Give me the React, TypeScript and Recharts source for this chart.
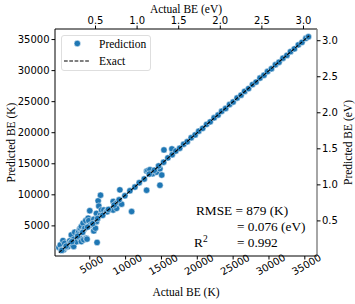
import React from "react";
import { ScatterChart, Scatter, XAxis, YAxis } from "recharts";

// values, in Kelvin
const actualK = [
  700, 890, 1030, 1260, 1360, 1500, 1730, 1960, 2200, 2300, 2430, 2570, 2760, 2760, 2900,
  3140, 3370, 3460, 3600, 3600, 3700, 3830, 3830, 4070, 4160, 4160, 4300, 4440, 4530, 4620,
  4770, 4860, 5000, 5100, 5560, 5560, 5790, 5930, 5930, 6020, 6170, 6260, 6500, 6500, 6630,
  6960, 7330, 7420, 8040, 8270, 8260, 8740, 8740, 9200, 9440, 10840,
  12930, 12930, 13100, 13390, 13770, 14330, 14790, 14790, 15040, 15350, 16460,
  1100, 1700, 2500, 3300, 4000, 4700, 5400, 6100, 6800, 7600, 8400, 9100, 9900, 10600, 11300,
  11900, 12600, 13300, 14000, 14600, 15300, 15900,
  16500, 17000, 17550, 18100, 18600, 19150, 19700, 20200, 20750, 21300, 21800, 22350, 22900,
  23400, 23950, 24500, 25000, 25550, 26100, 26600, 27150, 27700, 28200, 28750, 29300, 29800,
  30350, 30900, 31400, 31950, 32500, 33000, 33550, 34100, 34600, 35150, 35500,
];
const predictedK = [
  1500, 1930, 1130, 2630, 1160, 2200, 1550, 1660, 2580, 2230, 3550, 1930, 2850, 1690, 3980,
  2440, 3820, 4090, 4520, 3010, 4630, 4890, 2470, 5430, 4360, 2760, 4620, 5860, 3010, 2870,
  6240, 5840, 7440, 5150, 6060, 4190, 4630, 5680, 7020, 2330, 9030, 8190, 9940, 6750, 7580,
  7550, 7310, 7280, 7690, 8930, 7550, 8660, 7820, 10800, 8500, 7310,
  13820, 10740, 13900, 14040, 13400, 13660, 14200, 11540, 13180, 17230, 17390,
  1050, 1750, 2450, 3350, 3950, 4800, 5350, 6200, 6700, 7650, 8350, 9200, 9850, 10650, 11250,
  11950, 12550, 13350, 13950, 14650, 15250, 15950,
  16450, 17050, 17500, 18150, 18550, 19200, 19650, 20250, 20700, 21350, 21750, 22400, 22850,
  23450, 23900, 24550, 24950, 25600, 26050, 26650, 27100, 27750, 28150, 28800, 29250, 29850,
  30300, 30950, 31350, 32000, 32450, 33050, 33500, 34150, 34550, 35200, 35450,
];
const exactK = [700, 35600];

const kTicks = [5000, 10000, 15000, 20000, 25000, 30000, 35000];
const evTicks = [0.5, 1.0, 1.5, 2.0, 2.5, 3.0];

const K_PER_EV = 11604.5;
const kDomain = [150, 36700];
const evDomain = [kDomain[0] / K_PER_EV, kDomain[1] / K_PER_EV];

const predictionData = actualK.map((x, i) => ({ x, y: predictedK[i] }));
const exactData = exactK.map((v) => ({ x: v, y: v }));
const evAnchor = [{ x: evDomain[0], y: evDomain[0] }];

const BLUE = "#1f77b4";
const SERIF = "'Liberation Serif', 'Times New Roman', serif";
const SANS = "'DejaVu Sans', sans-serif";
const tickStyle = { fill: "#000", fontSize: 10, fontFamily: SANS };

const Dot = (props: any) => (
  <circle cx={props.cx} cy={props.cy} r={3.2} fill={BLUE} stroke="#fff" strokeWidth={0.5} />
);
const Nothing = () => <g />;

export default function App() {
  return (
    <div style={{ position: "absolute", left: 0, top: 0, width: 355, height: 304, background: "#fff" }}>
      <ScatterChart width={355} height={304} margin={{ top: 0, right: 0, bottom: 0, left: 0 }}>
        <XAxis
          xAxisId="k"
          dataKey="x"
          type="number"
          orientation="bottom"
          domain={kDomain}
          allowDataOverflow
          ticks={kTicks}
          height={48}
          angle={-30}
          tickSize={3.5}
          tickMargin={2}
          tick={tickStyle}
          stroke="#000"
        />
        <XAxis
          xAxisId="ev"
          dataKey="x"
          type="number"
          orientation="top"
          domain={evDomain}
          allowDataOverflow
          ticks={evTicks}
          tickFormatter={(v) => v.toFixed(1)}
          height={29}
          tickSize={3.5}
          tickMargin={2}
          tick={tickStyle}
          stroke="#000"
        />
        <YAxis
          yAxisId="k"
          dataKey="y"
          type="number"
          orientation="left"
          domain={kDomain}
          allowDataOverflow
          ticks={kTicks}
          width={55}
          tickSize={3.5}
          tickMargin={2}
          tick={tickStyle}
          stroke="#000"
        />
        <YAxis
          yAxisId="ev"
          dataKey="y"
          type="number"
          orientation="right"
          domain={evDomain}
          allowDataOverflow
          ticks={evTicks}
          tickFormatter={(v) => v.toFixed(1)}
          width={38}
          tickSize={3.5}
          tickMargin={1.5}
          tick={tickStyle}
          axisLine={{ stroke: "#808080", strokeWidth: 1.4 }}
          tickLine={{ stroke: "#000" }}
        />
        <Scatter
          xAxisId="ev"
          yAxisId="ev"
          data={evAnchor}
          shape={Nothing}
          isAnimationActive={false}
        />
        <Scatter
          xAxisId="k"
          yAxisId="k"
          data={predictionData}
          shape={Dot}
          isAnimationActive={false}
        />
        <Scatter
          xAxisId="k"
          yAxisId="k"
          data={exactData}
          line={{ stroke: "#000", strokeWidth: 1.1, strokeDasharray: "3.7 1.6" }}
          shape={Nothing}
          isAnimationActive={false}
        />
      </ScatterChart>

      <svg
        width={355}
        height={304}
        style={{ position: "absolute", left: 0, top: 0, pointerEvents: "none" }}
      >
        {/* axis titles */}
        <text x={186} y={12.5} textAnchor="middle" fontFamily={SERIF} fontSize={11.5}>
          Actual BE (eV)
        </text>
        <text x={186} y={296} textAnchor="middle" fontFamily={SERIF} fontSize={11.5}>
          Actual BE (K)
        </text>
        <text
          x={14.5}
          y={142.5}
          textAnchor="middle"
          fontFamily={SERIF}
          fontSize={11.5}
          transform="rotate(-90 14.5 142.5)"
        >
          Predicted BE (K)
        </text>
        <text
          x={352}
          y={142.5}
          textAnchor="middle"
          fontFamily={SERIF}
          fontSize={11.5}
          transform="rotate(-90 352 142.5)"
        >
          Predicted BE (eV)
        </text>

        {/* legend */}
        <rect x={61.5} y={35.5} width={89} height={35} rx={2.5} fill="#fff" fillOpacity={0.8} stroke="#d5d5d5" strokeWidth={0.8} />
        <circle cx={77.3} cy={43.5} r={3.2} fill={BLUE} stroke="#fff" strokeWidth={0.5} />
        <text x={99} y={48} fontFamily={SERIF} fontSize={11.5}>Prediction</text>
        <line x1={64} x2={89} y1={61} y2={61} stroke="#000" strokeWidth={1.1} strokeDasharray="3.7 1.6" />
        <text x={99} y={64.5} fontFamily={SERIF} fontSize={11.5}>Exact</text>

        {/* metrics */}
        <text x={196} y={215} fontFamily={SERIF} fontSize={13.3}>RMSE = 879 (K)</text>
        <text x={237} y={230.5} fontFamily={SERIF} fontSize={13.3}>= 0.076 (eV)</text>
        <text x={194} y={247} fontFamily={SERIF} fontSize={13.3}>
          R<tspan dy={-5} fontSize={9.5}>2</tspan>
        </text>
        <text x={237} y={247} fontFamily={SERIF} fontSize={13.3}>= 0.992</text>
      </svg>
    </div>
  );
}
